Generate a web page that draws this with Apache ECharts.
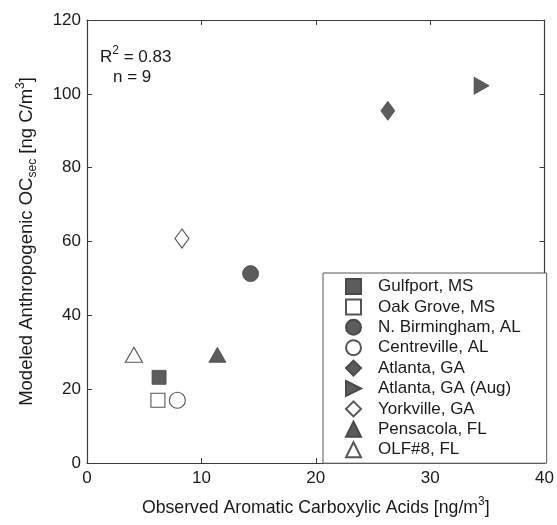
<!DOCTYPE html>
<html>
<head>
<meta charset="utf-8">
<script src="https://cdn.jsdelivr.net/npm/echarts@6/dist/echarts.min.js"></script>
<style>
html,body{margin:0;padding:0;background:#fff;}
#c{width:557px;height:525px;}
</style>
</head>
<body>
<div id="c"></div>
<script>
// ---- data ----
var siteNames = ['Gulfport, MS','Oak Grove, MS','N. Birmingham, AL','Centreville, AL','Atlanta, GA','Atlanta, GA (Aug)','Yorkville, GA','Pensacola, FL','OLF#8, FL'];
var observedAcids = [6.3, 6.2, 14.3, 7.9, 26.3, 34.5, 8.3, 11.4, 4.1];
var modeledOC = [23.2, 17.0, 51.3, 17.0, 95.4, 102.2, 60.8, 29.3, 29.3];
var xTicks = [0, 10, 20, 30, 40];
var yTicks = [0, 20, 40, 60, 80, 100, 120];

var FILL = '#5c5c5c', EDGE = '#4a4a4a';
var RIGHT_TRI = 'path://M0,0L10,5L0,10Z';
var symbols = ['rect','rect','circle','circle','diamond',RIGHT_TRI,'diamond','triangle','triangle'];
var sizes = [[14,14],[14,14],[16,16],[16,16],[14,19],[15,17],[14,19],[17,15],[17,15]];
var filled = [true,false,true,false,true,true,false,true,false];

var series = siteNames.map(function(name, i){
  return {
    name: name,
    type: 'scatter',
    xAxisIndex: 0, yAxisIndex: 0,
    symbol: symbols[i],
    symbolSize: sizes[i],
    symbolKeepAspect: false,
    itemStyle: filled[i] ? {color: FILL, borderColor: EDGE, borderWidth: 0.8, opacity: 1}
                         : {color: '#fff', borderColor: '#555', borderWidth: 1.1, opacity: 1},
    emphasis: {disabled: true},
    data: [[observedAcids[i], modeledOC[i]]]
  };
});

var FONT = 'Liberation Sans, Arial, sans-serif';
var TXT = '#1a1a1a';
var AX = '#3a3a3a';

var chart = echarts.init(document.getElementById('c'), null, {renderer: 'canvas'});
chart.setOption({
  animation: false,
  backgroundColor: '#fff',
  textStyle: {fontFamily: FONT},
  grid: {left: 87, right: 10, top: 20, bottom: 55, containLabel: false},
  xAxis: [{
    type: 'value', position: 'bottom', min: 0, max: 40, interval: 10,
    axisLine: {show: true, onZero: false, lineStyle: {color: AX, width: 1.2}},
    axisTick: {show: true, inside: true, length: 5, lineStyle: {color: AX}},
    axisLabel: {margin: 7, fontSize: 17, color: TXT, fontFamily: FONT},
    splitLine: {show: false},
    name: 'Observed Aromatic Carboxylic Acids [ng/m{sup|3}]',
    nameLocation: 'middle', nameGap: 33,
    nameTextStyle: {fontSize: 17.7, color: TXT, fontFamily: FONT, lineHeight: 24,
      rich: {sup: {fontSize: 12, lineHeight: 11, verticalAlign: 'top', color: TXT, fontFamily: FONT}}}
  },{
    type: 'value', position: 'top', min: 0, max: 40, interval: 10,
    axisLine: {show: true, onZero: false, lineStyle: {color: AX, width: 1.2}},
    axisTick: {show: true, inside: true, length: 5, lineStyle: {color: AX}},
    axisLabel: {show: false}, splitLine: {show: false}
  }],
  yAxis: [{
    type: 'value', position: 'left', min: 0, max: 120, interval: 20,
    axisLine: {show: true, onZero: false, lineStyle: {color: AX, width: 1.2}},
    axisTick: {show: true, inside: true, length: 5, lineStyle: {color: AX}},
    axisLabel: {margin: 6, fontSize: 17, color: TXT, fontFamily: FONT},
    splitLine: {show: false},
    name: 'Modeled Anthropogenic OC{sub|sec} [ng C/m{sup|3}]',
    nameLocation: 'middle', nameGap: 48, nameRotate: 90,
    nameTextStyle: {fontSize: 18.5, color: TXT, fontFamily: FONT, lineHeight: 24,
      rich: {
        sup: {fontSize: 12, lineHeight: 11, verticalAlign: 'top', color: TXT, fontFamily: FONT},
        sub: {fontSize: 12, lineHeight: 11, verticalAlign: 'bottom', color: TXT, fontFamily: FONT}
      }}
  },{
    type: 'value', position: 'right', min: 0, max: 120, interval: 20,
    axisLine: {show: true, onZero: false, lineStyle: {color: AX, width: 1.2}},
    axisTick: {show: true, inside: true, length: 5, lineStyle: {color: AX}},
    axisLabel: {show: false}, splitLine: {show: false}
  }],
  legend: {
    orient: 'vertical',
    left: 323, top: 273,
    data: siteNames,
    itemWidth: 15, itemHeight: 15, itemGap: 3.4,
    padding: [5, 26, 5, 22],
    borderColor: '#555', borderWidth: 1,
    backgroundColor: '#fff',
    selectedMode: false,
    textStyle: {fontSize: 17, color: TXT, fontFamily: FONT, padding: [0, 0, 0, 12]}
  },
  graphic: [
    {type: 'text', left: 100, top: 45, style: {
      text: 'R{sup|2} = 0.83', fill: TXT, fontSize: 17, fontFamily: FONT, lineHeight: 24,
      rich: {sup: {fontSize: 12, lineHeight: 12, verticalAlign: 'top', fontFamily: FONT, fill: TXT}}
    }},
    {type: 'text', left: 113, top: 69, style: {text: 'n = 9', fill: TXT, fontSize: 17, fontFamily: FONT}}
  ],
  series: series
});
</script>
</body>
</html>
